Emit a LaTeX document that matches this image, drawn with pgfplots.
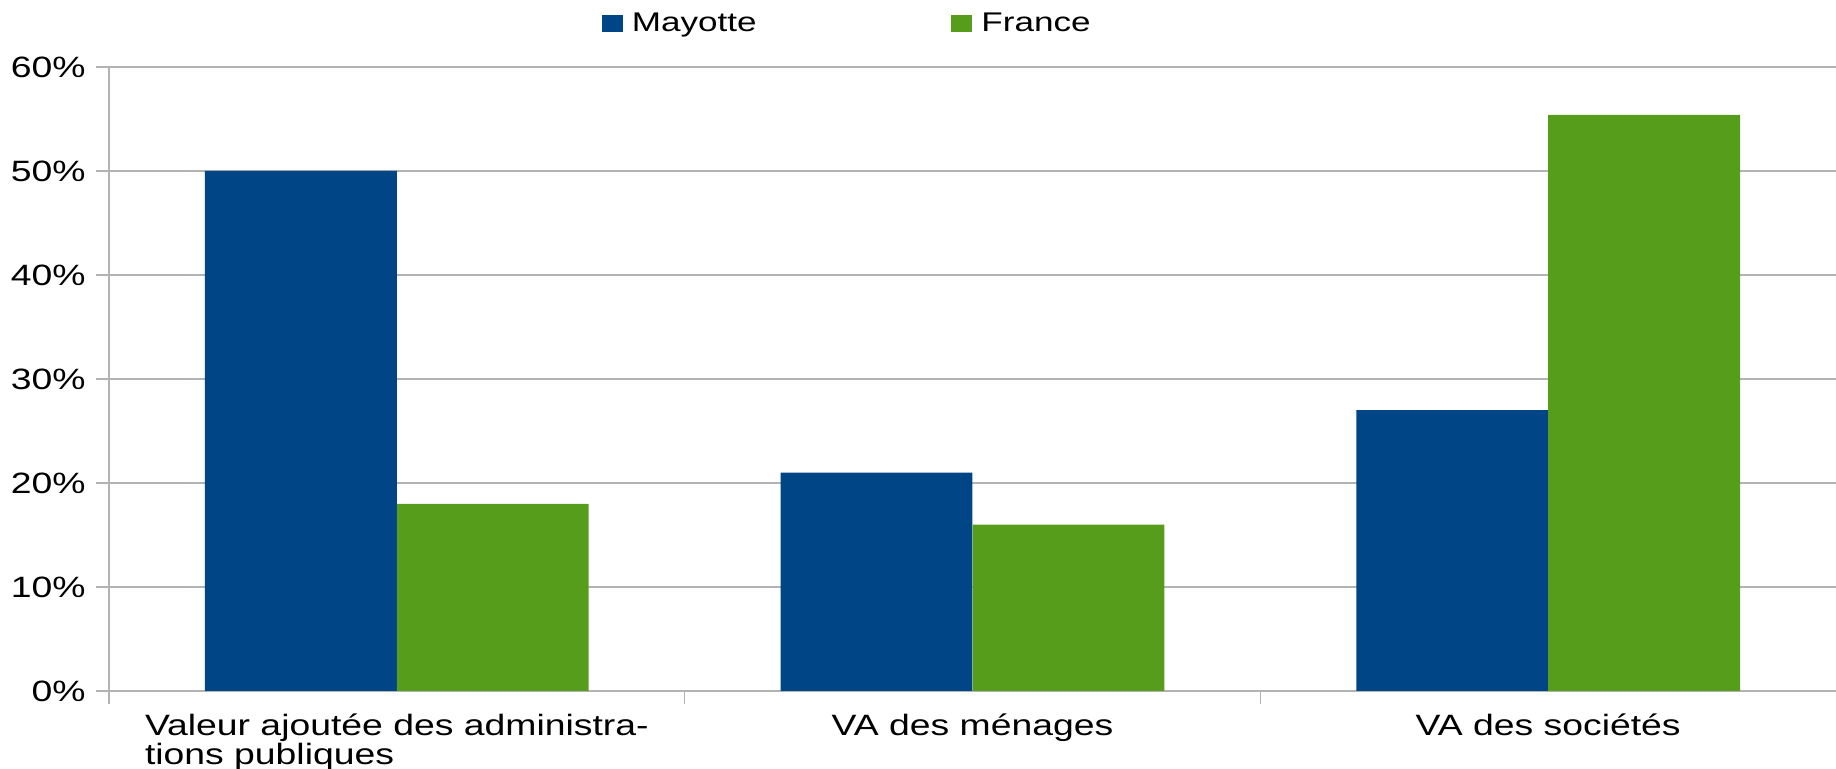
\documentclass[border=0pt]{standalone}
\usepackage{fontspec}
\setmainfont{Liberation Sans}[FakeStretch=1.27]
\newfontfamily\legfont{Liberation Sans}[FakeStretch=1.3]
\usepackage{pgfplots}
\pgfplotsset{compat=1.18}
\definecolor{lomay}{HTML}{004586}
\definecolor{lofr}{HTML}{579D1C}
\definecolor{logrid}{HTML}{B3B3B3}

\begin{document}
\begin{tikzpicture}
  \begin{axis}[
      scale only axis,
      width=863.5pt, height=312pt,
      xmin=-0.5, xmax=2.5,
      ymin=0, ymax=60,
      ytick={0,10,...,60},
      yticklabel={\pgfmathprintnumber{\tick}\%},
      /pgf/number format/assume math mode=true,
      axis lines*=left,
      axis line style={logrid, line width=0.7pt},
      tick style={logrid, line width=0.7pt},
      tick align=outside,
      major tick length=6.5pt,
      ymajorgrids,
      grid style={logrid, line width=0.7pt},
      xtick={-0.5,0.5,1.5},
      xticklabels={},
      extra x ticks={0,1,2},
      extra x tick labels={{Valeur ajoutée des administra-\\tions publiques},{VA des ménages},{VA des sociétés}},
      extra x tick style={major tick length=0pt, xticklabel style={align=left, anchor=north, inner sep=0pt, yshift=-11pt}},
      ticklabel style={font=\fontsize{14.7}{12.8}\selectfont},
      yticklabel style={inner sep=0pt, xshift=-5pt},
      legend columns=2,
      legend style={draw=none, at={(0.428,1.069)}, anchor=center,
        font=\legfont\fontsize{13.5}{14}\selectfont,
        /tikz/every even column/.append style={column sep=95.3pt}},
      ybar legend/.style={/pgfplots/legend image code/.code={\fill[##1] (0pt,-4.25pt) rectangle (10.5pt,4.25pt); \path (13.1pt,0pt);}},
      ybar, bar width=0.3333,
    ]
    \addplot[fill=lomay, draw=none, bar shift=-0.16667] coordinates {(0,50) (1,21) (2,27)};
    \addlegendentry{Mayotte}
    \addplot[fill=lofr, draw=none, bar shift=0.16667] coordinates {(0,18) (1,16) (2,55.4)};
    \addlegendentry{France}
  \end{axis}
  \pgfresetboundingbox
  \path ([shift={(-54.5pt,-39pt)}]current axis.south west) rectangle ([shift={(0pt,33.5pt)}]current axis.north east);
\end{tikzpicture}
\end{document}
